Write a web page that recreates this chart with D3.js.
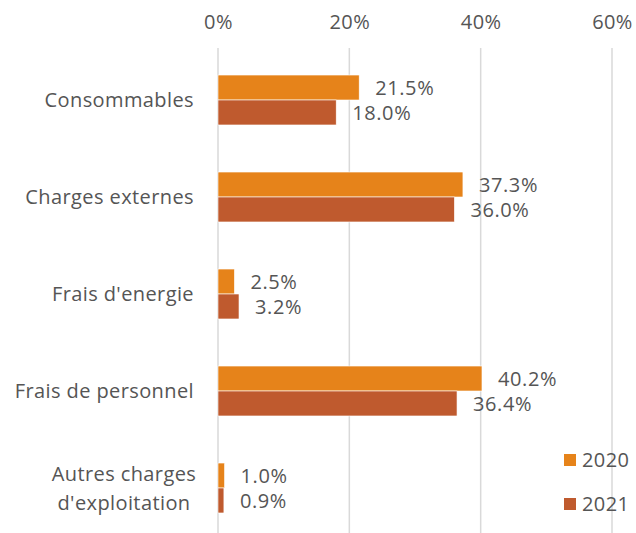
<!DOCTYPE html>
<html><head><meta charset="utf-8">
<script src="https://cdn.jsdelivr.net/npm/d3@7"></script>
<style>body{margin:0;background:#fff}svg{display:block}</style>
</head><body>
<svg id="c" width="636" height="533"></svg>
<script>
const categories = ["Consommables", "Charges externes", "Frais d'energie", "Frais de personnel", "Autres charges\nd'exploitation"];
const seriesNames = ["2020", "2021"];
const values2020 = [21.5, 37.3, 2.5, 40.2, 1.0];
const values2021 = [18.0, 36.0, 3.2, 36.4, 0.9];
const tickValues = [0, 20, 40, 60];
const colors = ["#E6831A", "#BF5A2E"];

const svg = d3.select("#c");
const font = "'Open Sans', sans-serif";
const textColor = "#555555";
const fs = 20;

const x = d3.scaleLinear().domain([0, 60]).range([218, 612]);
const y0 = d3.scaleBand().domain(categories).range([51.5, 536.5]).paddingInner(0.485).paddingOuter(0.2425);
const y1 = d3.scaleBand().domain(seriesNames).range([0, y0.bandwidth()]);
const color = d3.scaleOrdinal().domain(seriesNames).range(colors);

// gridlines
svg.append("g").selectAll("line").data(tickValues).join("line")
  .attr("x1", d => x(d)).attr("x2", d => x(d))
  .attr("y1", 48).attr("y2", 533)
  .attr("stroke", "#D9D9D9").attr("stroke-width", 1.5);

// top axis labels
const axis = d3.axisTop(x).tickValues(tickValues).tickFormat(d => d + "%").tickSize(0).tickPadding(0);
const ag = svg.append("g").attr("transform", "translate(0,29)").call(axis);
ag.select(".domain").remove();
ag.selectAll("text").attr("font-family", font).attr("font-size", fs).attr("fill", textColor)
  .attr("letter-spacing", 0.4).attr("dy", 0).attr("text-anchor", "middle");

const data = categories.map((c, i) => ({ cat: c, vals: [
  { s: "2020", v: values2020[i] }, { s: "2021", v: values2021[i] } ] }));

const groups = svg.append("g").selectAll("g").data(data).join("g")
  .attr("transform", d => `translate(0,${y0(d.cat)})`);

groups.selectAll("rect").data(d => d.vals).join("rect")
  .attr("x", x(0)).attr("y", d => y1(d.s))
  .attr("width", d => x(d.v) - x(0)).attr("height", y1.bandwidth())
  .attr("fill", d => color(d.s)).attr("stroke", "#fff").attr("stroke-width", 0.6);

groups.selectAll("text").data(d => d.vals).join("text")
  .attr("x", d => x(d.v) + 16).attr("y", d => y1(d.s) + y1.bandwidth() / 2)
  .attr("dy", "0.36em")
  .attr("font-family", font).attr("font-size", fs).attr("letter-spacing", 0.6)
  .attr("fill", textColor)
  .text(d => d.v.toFixed(1) + "%");

// category labels
const cl = svg.append("g").selectAll("text").data(categories).join("text")
  .attr("font-family", font).attr("font-size", fs).attr("letter-spacing", 0.4)
  .attr("fill", textColor);
cl.each(function(d) {
  const lines = d.split("\n");
  const t = d3.select(this);
  const cy = y0(d) + y0.bandwidth() / 2;
  if (lines.length === 1) {
    t.attr("x", 194).attr("y", cy).attr("dy", "0.36em").attr("text-anchor", "end").text(d);
  } else {
    t.attr("text-anchor", "middle");
    lines.forEach((ln, k) => {
      t.append("tspan").attr("x", 124).attr("y", cy + (k - (lines.length - 1) / 2) * 29)
        .attr("dy", "0.36em").text(ln);
    });
  }
});

// legend
const lg = svg.append("g").selectAll("g").data(seriesNames).join("g")
  .attr("transform", (d, i) => `translate(564,${454 + i * 44})`);
lg.append("rect").attr("width", 12).attr("height", 12).attr("fill", d => color(d));
lg.append("text").attr("x", 18).attr("y", 6).attr("dy", "0.36em")
  .attr("font-family", font).attr("font-size", fs).attr("letter-spacing", 0.4)
  .attr("fill", textColor).text(d => d);
</script>
</body></html>
